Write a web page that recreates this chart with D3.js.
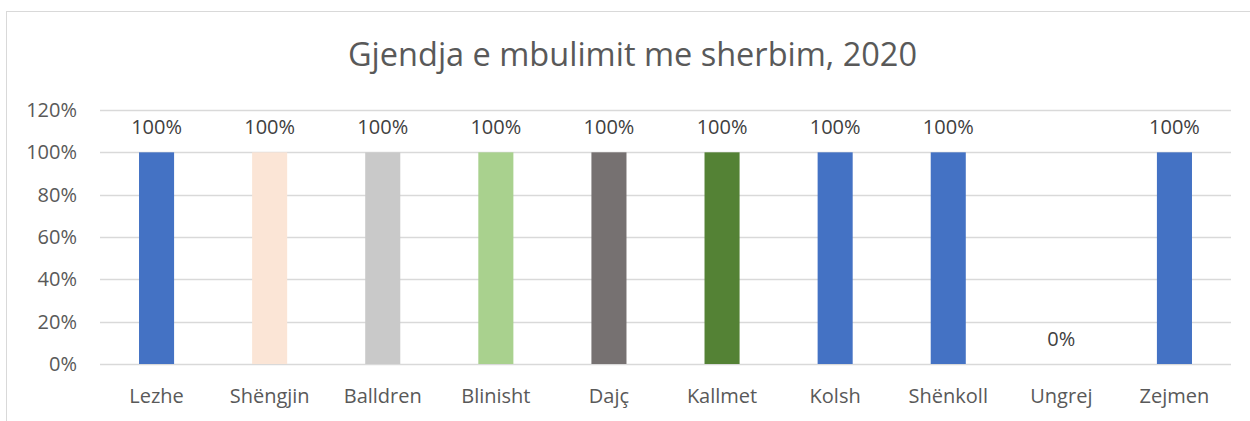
<!DOCTYPE html>
<html>
<head>
<meta charset="utf-8">
<script src="https://cdn.jsdelivr.net/npm/d3@7"></script>
<style>
  body { margin: 0; background: #fff; }
  svg { display: block; font-family: "Open Sans", Lato, sans-serif; }
</style>
</head>
<body>
<div id="chart"></div>
<script>
// Chart data
const categories = ["Lezhe", "Shëngjin", "Balldren", "Blinisht", "Dajç", "Kallmet", "Kolsh", "Shënkoll", "Ungrej", "Zejmen"];
const values = [1, 1, 1, 1, 1, 1, 1, 1, 0, 1];
const barColors = ["#4472C4", "#FBE5D6", "#C9C9C9", "#A9D18E", "#767171", "#548235", "#4472C4", "#4472C4", "#4472C4", "#4472C4"];
const yTicks = [0, 0.2, 0.4, 0.6, 0.8, 1.0, 1.2];
const title = "Gjendja e mbulimit me sherbim, 2020";

const W = 1250, H = 421;
const margin = {top: 110, right: 19, bottom: 57, left: 100};
const width = W - margin.left - margin.right;
const height = H - margin.top - margin.bottom;
const fontFam = "'Open Sans', Lato, sans-serif";
const labelSize = "20px";

const svg = d3.select("#chart").append("svg")
  .attr("width", W)
  .attr("height", H);

// Outer chart frame (runs off the right and bottom edges)
svg.append("rect")
  .attr("x", 6.5).attr("y", 11.5)
  .attr("width", W + 10).attr("height", H + 10)
  .attr("fill", "none")
  .attr("stroke", "#D9D9D9")
  .attr("stroke-width", 1);

const g = svg.append("g").attr("transform", `translate(${margin.left},${margin.top})`);

const x = d3.scaleBand().domain(categories).range([0, width]).paddingInner(0.69).paddingOuter(0.345);
const y = d3.scaleLinear().domain([0, 1.2]).range([height, 0]);

// Gridlines
g.selectAll("line.grid")
  .data(yTicks)
  .enter().append("line")
  .attr("class", "grid")
  .attr("x1", 0).attr("x2", width)
  .attr("y1", d => Math.round(y(d)) + 0.5)
  .attr("y2", d => Math.round(y(d)) + 0.5)
  .attr("stroke", "#D9D9D9")
  .attr("stroke-width", 1.3);

// Y axis labels
const yAxis = g.append("g")
  .call(d3.axisLeft(y).tickValues(yTicks).tickFormat(d3.format(".0%")).tickSize(0).tickPadding(23));
yAxis.select(".domain").remove();
yAxis.selectAll("text")
  .attr("fill", "#595959")
  .attr("font-size", labelSize)
  .attr("font-family", fontFam);

// X axis labels
const xAxis = g.append("g")
  .attr("transform", `translate(0,${height})`)
  .call(d3.axisBottom(x).tickSize(0).tickPadding(25));
xAxis.select(".domain").remove();
xAxis.selectAll("text")
  .attr("fill", "#595959")
  .attr("font-size", labelSize)
  .attr("font-family", fontFam);

// Bars
g.selectAll("rect.bar")
  .data(categories)
  .enter().append("rect")
  .attr("class", "bar")
  .attr("x", d => x(d))
  .attr("y", (d, i) => y(values[i]))
  .attr("width", x.bandwidth())
  .attr("height", (d, i) => height - y(values[i]))
  .attr("fill", (d, i) => barColors[i]);

// Data labels
g.selectAll("text.label")
  .data(categories)
  .enter().append("text")
  .attr("class", "label")
  .attr("x", d => x(d) + x.bandwidth() / 2)
  .attr("y", (d, i) => y(values[i]) - 18)
  .attr("text-anchor", "middle")
  .attr("fill", "#404040")
  .attr("font-size", labelSize)
  .text((d, i) => d3.format(".0%")(values[i]));

// Title
svg.append("text")
  .attr("x", 632.5)
  .attr("y", 66)
  .attr("text-anchor", "middle")
  .attr("fill", "#595959")
  .attr("font-size", "32.5px")
  .text(title);
</script>
</body>
</html>
